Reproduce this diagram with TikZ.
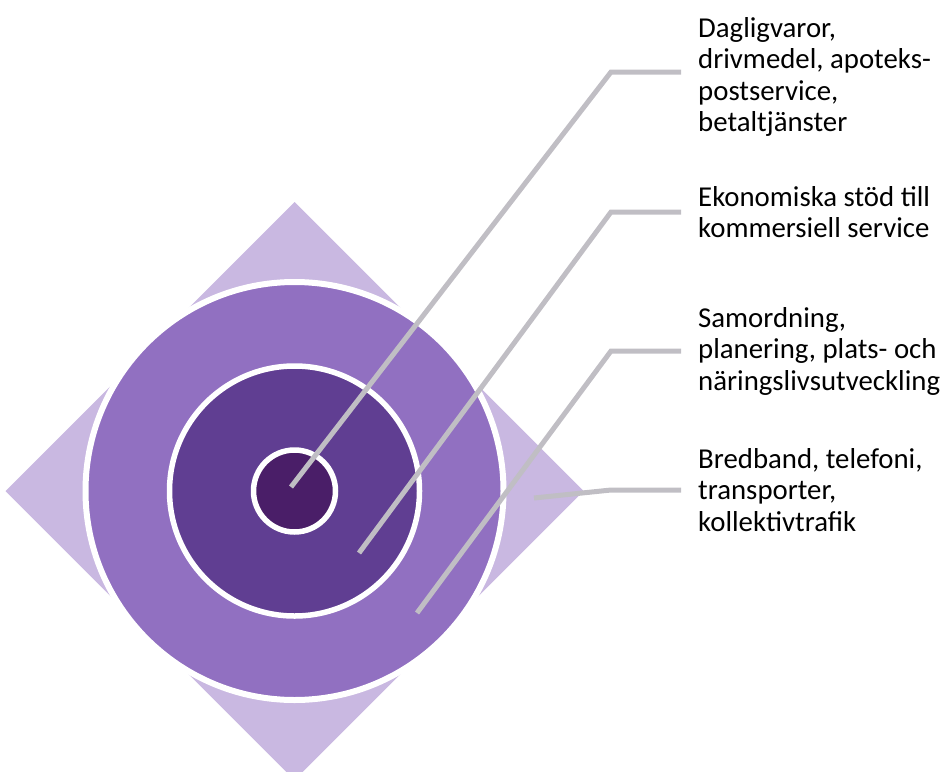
\documentclass[tikz,border=0pt]{standalone}
\usepackage{fontspec}
\setmainfont{Carlito}
\usetikzlibrary{positioning, calc}

\definecolor{diamondlilac}{RGB}{201,184,225}
\definecolor{outerlilac}{RGB}{145,112,193}
\definecolor{midpurple}{RGB}{96,62,146}
\definecolor{corepurple}{RGB}{74,30,104}
\definecolor{leadergray}{RGB}{192,190,196}

\begin{document}
\begin{tikzpicture}[x=1pt, y=-1pt,
        ring/.style={draw=white, line width=5.5pt},
        leader/.style={draw=leadergray, line width=5pt},
        itemtext/.style={anchor=west, inner xsep=17pt, inner ysep=0pt, align=left,
            font=\fontsize{28.8}{31.5}\selectfont}]
        \clip (0, 0) rectangle (947, 771);
        \coordinate (c) at (294.5, 491);

        % Diamond behind the rings
        \fill[diamondlilac] (5.5, 491) -- (294.5, 202) -- (583.5, 491) -- (294.5, 780) -- cycle;

        % Rings, outside in
        \draw[ring, line width=6pt, fill=outerlilac] (c) circle[radius=209pt];
        \draw[ring, fill=midpurple] (c) circle[radius=125pt];
        \draw[ring, fill=corepurple] (c) circle[radius=41pt];

        % Texts
        \node[itemtext] (t1) at (681, 77) {Dagligvaror,\\drivmedel, apoteks-\\postservice,\\betaltjänster};
        \node[itemtext] (t2) at (681, 212) {Ekonomiska stöd till\\kommersiell service};
        \node[itemtext] (t3) at (681, 351) {Samordning,\\planering, plats- och\\näringslivsutveckling};
        \node[itemtext] (t4) at (681, 490) {Bredband, telefoni,\\transporter,\\kollektivtrafik};

        % Leader lines
        \coordinate (s1) at (291, 487);
        \coordinate (k1) at (611, 72);
        \coordinate (s2) at (359, 553);
        \coordinate (k2) at (611, 212);
        \coordinate (s3) at (417, 613);
        \coordinate (k3) at (611, 351);
        \coordinate (s4) at (534, 498);
        \coordinate (k4) at (611, 490);
        \draw[leader] (s1) -- (k1) -- (k1 -| t1.west);
        \draw[leader] (s2) -- (k2) -- (t2.west);
        \draw[leader] (s3) -- (k3) -- (t3.west);
        \draw[leader] (s4) -- (k4) -- (t4.west);
    \end{tikzpicture}
\end{document}
